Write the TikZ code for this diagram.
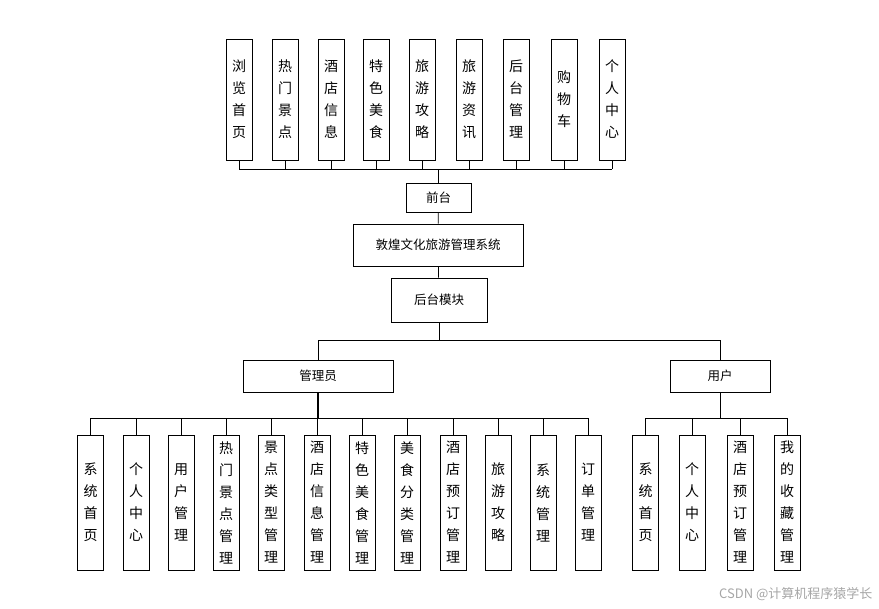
\documentclass[tikz,border=0pt]{standalone}
\usepackage{fontspec}
\setmainfont{Noto Sans CJK SC}
\begin{document}
\begin{tikzpicture}[x=1pt,y=-1pt,
  vb/.style={draw,line width=0.8pt,minimum width=26pt,align=center,inner sep=0pt,font=\fontsize{14}{22}\selectfont},
  hb/.style={draw,line width=0.8pt,inner sep=0pt,font=\fontsize{12.5}{14}\selectfont},
  ln/.style={line width=0.8pt}]
\useasboundingbox (0,0) rectangle (879,609);
% top row
\foreach \x/\t [count=\i] in {239/浏\\览\\首\\页,285/热\\门\\景\\点,331/酒\\店\\信\\息,376/特\\色\\美\\食,422/旅\\游\\攻\\略,469/旅\\游\\资\\讯,516/后\\台\\管\\理,564/购\\物\\车,612/个\\人\\中\\心}
  \node[vb,minimum height=121pt] (t\i) at (\x,99.5) {\t};
\node[hb,minimum width=65pt,minimum height=29pt] (qt) at (438.5,197.5) {前台};
\node[hb,minimum width=170pt,minimum height=42pt] (sys) at (438,245) {敦煌文化旅游管理系统};
\node[hb,minimum width=96pt,minimum height=44pt] (ht) at (439,300) {后台模块};
\node[hb,minimum width=150pt,minimum height=32pt] (adm) at (318,376) {管理员};
\node[hb,minimum width=100pt,minimum height=32pt] (usr) at (720,376) {用户};
\coordinate (tb) at (0,169);
\foreach \i in {1,...,9} \draw[ln] (t\i.south) -- (t\i.south |- tb);
\draw[ln] (t1.south |- tb) -- (t9.south |- tb);
\draw[line width=1.5pt] (qt.north) -- (qt.north |- tb);
\draw[ln] (qt) -- (sys);
\draw[ln] (sys) -- (ht);
\coordinate (mb) at (0,340);
\draw[ln] (ht.south) -- (ht.south |- mb);
\draw[ln] (adm.north) -- (adm.north |- mb) -- (usr.north |- mb) -- (usr.north);
% bottom admin
\coordinate (ab) at (0,418);
\foreach \x/\t [count=\i] in {90.5/系\\统\\首\\页,136/个\\人\\中\\心,181/用\\户\\管\\理,226/热\\门\\景\\点\\管\\理,271/景\\点\\类\\型\\管\\理,317/酒\\店\\信\\息\\管\\理,362/特\\色\\美\\食\\管\\理,407/美\\食\\分\\类\\管\\理,453/酒\\店\\预\\订\\管\\理,498/旅\\游\\攻\\略,543/系\\统\\管\\理,588/订\\单\\管\\理}
  {\node[vb,minimum height=135pt] (a\i) at (\x,502.5) {\t};
   \draw[ln] (a\i.north) -- (a\i.north |- ab);}
\draw[ln] (a1.north |- ab) -- (a12.north |- ab);
\draw[line width=1.3pt] (adm.south) -- (adm.south |- ab);
\coordinate (ub) at (0,418);
\foreach \x/\t [count=\i] in {645.5/系\\统\\首\\页,692/个\\人\\中\\心,740/酒\\店\\预\\订\\管\\理,787/我\\的\\收\\藏\\管\\理}
  {\node[vb,minimum height=135pt] (u\i) at (\x,502.5) {\t};
   \draw[ln] (u\i.north) -- (u\i.north |- ub);}
\draw[ln] (u1.north |- ub) -- (u4.north |- ub);
\draw[ln] (usr.south) -- (usr.south |- ub);
\node[text=gray!70,font=\fontsize{13}{14}\selectfont,anchor=east] (wm) at (876,594) {CSDN @计算机程序猿学长};
\end{tikzpicture}
\end{document}
